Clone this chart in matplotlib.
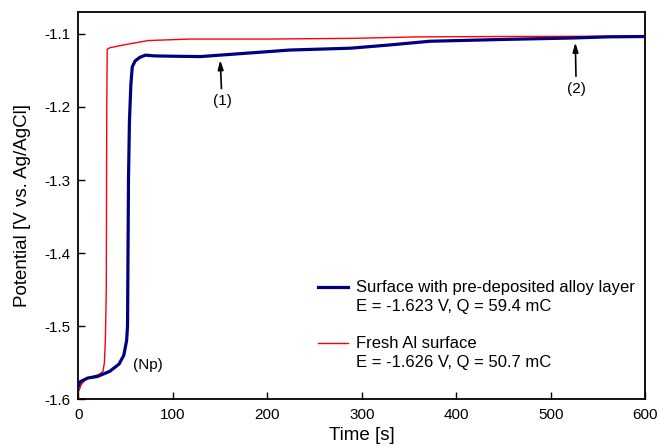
import matplotlib
matplotlib.use("Agg")
from matplotlib import pyplot as plt
from matplotlib.lines import Line2D

plt.rcParams['font.family'] = ['Liberation Sans', 'DejaVu Sans']

# surface with pre-deposited alloy layer (blue)
t_alloy = [0, 2, 10, 20, 33, 43, 48, 51, 52, 53, 54, 55.5, 57, 60, 65, 71, 80, 100, 129,
           150, 224, 288, 330, 372, 450, 524, 560, 600]
e_alloy = [-1.582, -1.576, -1.571, -1.569, -1.562, -1.552, -1.540, -1.520, -1.500, -1.30,
           -1.22, -1.17, -1.145, -1.137, -1.132, -1.129, -1.130, -1.1305, -1.131, -1.129,
           -1.122, -1.1195, -1.115, -1.110, -1.1075, -1.1055, -1.104, -1.1035]

# fresh Al surface (red)
t_fresh = [0, 3, 8, 15, 22, 26, 27.5, 28.5, 29.5, 30, 30.5, 33, 48, 74, 118, 150, 200,
           290, 360, 450, 600]
e_fresh = [-1.590, -1.580, -1.572, -1.569, -1.566, -1.562, -1.550, -1.520, -1.450, -1.20,
           -1.121, -1.119, -1.115, -1.109, -1.107, -1.107, -1.107, -1.106, -1.104,
           -1.1035, -1.103]

labels = ["Surface with pre-deposited alloy layer", "E = -1.623 V, Q = 59.4 mC",
          "Fresh Al surface", "E = -1.626 V, Q = 50.7 mC"]


def main():
    fig = plt.figure(figsize=(6.59, 4.46), dpi=100)
    ax = fig.add_axes([0.119, 0.105, 0.860, 0.868])

    ax.plot(t_fresh, e_fresh, color="#ff0000", lw=1.0, zorder=2)
    ax.plot(t_alloy, e_alloy, color="#000080", lw=2.3, zorder=3)

    ax.set_xlim(0, 600)
    ax.set_ylim(-1.6, -1.07)
    ax.set_xticks([0, 100, 200, 300, 400, 500, 600])
    ax.set_yticks([-1.6, -1.5, -1.4, -1.3, -1.2, -1.1])
    ax.set_yticklabels(["-1.6", "-1.5", "-1.4", "-1.3", "-1.2", "-1.1"])
    ax.tick_params(direction="in", length=5, width=1, labelsize=11, pad=6)
    for s in ax.spines.values():
        s.set_linewidth(1.3)
    ax.set_xlabel("Time [s]", fontsize=13.5, labelpad=4)
    ax.set_ylabel("Potential [V vs. Ag/AgCl]", fontsize=13.5, labelpad=9)

    arrow = dict(arrowstyle="-|>,head_length=0.5,head_width=0.15", color="black", lw=1.2)
    ax.annotate("(1)", xy=(150, -1.132), xytext=(152, -1.192), ha="center", va="center",
                fontsize=11, arrowprops=arrow)
    ax.annotate("(2)", xy=(526, -1.108), xytext=(527, -1.175), ha="center", va="center",
                fontsize=11, arrowprops=arrow)
    ax.text(74, -1.553, "(Np)", ha="center", va="center", fontsize=11)

    blank = Line2D([], [], color="none")
    handles = [Line2D([], [], color="#000080", lw=2.3), blank, blank,
               Line2D([], [], color="#ff0000", lw=1.0), blank]
    ax.legend(handles, [labels[0], labels[1], "", labels[2], labels[3]],
              loc="lower left", bbox_to_anchor=(0.423, 0.075), frameon=False,
              borderpad=0, borderaxespad=0,
              fontsize=12, handlelength=1.8, handletextpad=0.45, labelspacing=0.22)

    fig.savefig("out.png", dpi=100)


if __name__ == "__main__":
    main()
